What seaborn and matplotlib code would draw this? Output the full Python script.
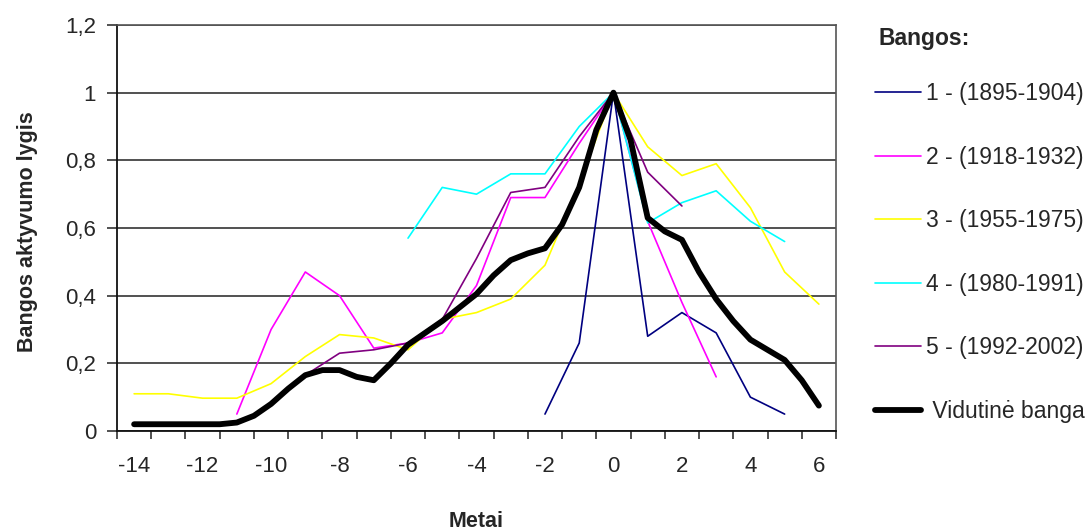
import numpy as np
import pandas as pd
import matplotlib
matplotlib.use("Agg")
import matplotlib.pyplot as plt
from matplotlib.ticker import FixedLocator
import seaborn as sns

# data
metai_1 = [-2, -1, 0, 1, 2, 3, 4, 5]
banga_1 = [0.05, 0.26, 1.0, 0.28, 0.35, 0.29, 0.10, 0.05]

metai_2 = [-11, -10, -9, -8, -7, -6, -5, -4, -3, -2, -1, 0, 1, 2, 3]
banga_2 = [0.05, 0.30, 0.47, 0.40, 0.245, 0.26, 0.29, 0.43, 0.69, 0.69, 0.85, 1.0, 0.62, 0.38, 0.16]

metai_3 = [-14, -13, -12, -11, -10, -9, -8, -7, -6, -5, -4, -3, -2, -1, 0, 1, 2, 3, 4, 5, 6]
banga_3 = [0.11, 0.11, 0.097, 0.097, 0.14, 0.22, 0.285, 0.275, 0.24, 0.33, 0.35, 0.39, 0.49,
           0.73, 1.0, 0.84, 0.755, 0.79, 0.66, 0.47, 0.375]

metai_4 = [-6, -5, -4, -3, -2, -1, 0, 1, 2, 3, 4, 5]
banga_4 = [0.57, 0.72, 0.70, 0.76, 0.76, 0.90, 1.0, 0.615, 0.675, 0.71, 0.62, 0.56]

metai_5 = [-9, -8, -7, -6, -5, -4, -3, -2, -1, 0, 1, 2]
banga_5 = [0.165, 0.23, 0.24, 0.26, 0.33, 0.51, 0.705, 0.72, 0.87, 1.0, 0.765, 0.665]

metai_vid = np.arange(-14, 6.5, 0.5)
vidutine = [0.02, 0.02, 0.02, 0.02, 0.02, 0.02, 0.025, 0.045, 0.08, 0.125, 0.165, 0.18, 0.18,
            0.16, 0.15, 0.2, 0.255, 0.29, 0.325, 0.365, 0.405, 0.46, 0.505, 0.525, 0.54, 0.61,
            0.72, 0.89, 1.0, 0.86, 0.63, 0.59, 0.565, 0.47, 0.39, 0.325, 0.27, 0.24, 0.21,
            0.15, 0.075]

pavadinimai = ["1 - (1895-1904)", "2 - (1918-1932)", "3 - (1955-1975)",
               "4 - (1980-1991)", "5 - (1992-2002)"]
spalvos = ["#000080", "#FF00FF", "#FFFF00", "#00FFFF", "#800080"]

x_labels = [-14, -12, -10, -8, -6, -4, -2, 0, 2, 4, 6]
y_ticks = [0, 0.2, 0.4, 0.6, 0.8, 1.0, 1.2]
y_labels = ["0", "0,2", "0,4", "0,6", "0,8", "1", "1,2"]

# long table for seaborn
frames = []
for name, xs, ys in zip(pavadinimai, [metai_1, metai_2, metai_3, metai_4, metai_5],
                        [banga_1, banga_2, banga_3, banga_4, banga_5]):
    frames.append(pd.DataFrame({"Metai": xs, "Lygis": ys, "Banga": name}))
df_bangos = pd.concat(frames, ignore_index=True)
df_vid = pd.DataFrame({"Metai": metai_vid, "Lygis": vidutine})

sns.set_style("white")
plt.rcParams["font.family"] = ["Liberation Sans", "DejaVu Sans"]

fig = plt.figure(figsize=(10.89, 5.31), dpi=100)
ax = fig.add_axes([117 / 1089, 1 - 431 / 531, 719 / 1089, 406 / 531])

sns.lineplot(data=df_bangos, x="Metai", y="Lygis", hue="Banga", hue_order=pavadinimai,
             palette=spalvos, linewidth=1.2, estimator=None, sort=False, legend=False, ax=ax)
sns.lineplot(data=df_vid, x="Metai", y="Lygis", color="black", linewidth=4.2,
             estimator=None, sort=False, legend=False, ax=ax)
ax.lines[-1].set_solid_joinstyle("round")
ax.lines[-1].set_solid_capstyle("round")

ax.set_xlim(-14.5, 6.5)
ax.set_ylim(0, 1.2)

# category style axis: labels on every 2nd year, ticks between the years
ax.set_xticks(x_labels)
ax.set_xticklabels([str(v) for v in x_labels])
ax.xaxis.set_minor_locator(FixedLocator(np.arange(-14.5, 7, 1.0)))
ax.tick_params(axis="x", which="major", length=0, pad=18, labelsize=16)
ax.tick_params(axis="x", which="minor", length=6, width=1.1, color="#222222", direction="out")
ax.xaxis.set_ticks_position("bottom")

ax.set_yticks(y_ticks)
ax.set_yticklabels(y_labels)
ax.tick_params(axis="y", which="major", length=7, width=1.1, color="#222222", pad=8,
               labelsize=16, direction="out")
ax.yaxis.set_ticks_position("left")

ax.grid(axis="y", color="#333333", linewidth=1.2)
ax.grid(axis="x", visible=False)
ax.set_axisbelow(True)

for side in ["left", "bottom"]:
    ax.spines[side].set_color("#111111")
    ax.spines[side].set_linewidth(1.3)
for side in ["top", "right"]:
    ax.spines[side].set_color("#555555")
    ax.spines[side].set_linewidth(1.2)

ax.set_xlabel("Metai", fontsize=15.5, fontweight="bold")
ax.xaxis.set_label_coords(0.5, -0.197)
ax.xaxis.label.set_va("top")
ax.set_ylabel("Bangos aktyvumo lygis", fontsize=15.5, fontweight="bold")
ax.yaxis.set_label_coords(-0.11, 0.49)

# legend title placed on its own, entries below
fig.text(878 / 1089, 1 - 38 / 531, "Bangos:", fontsize=16.5, fontweight="bold",
         ha="left", va="center")
handles = list(ax.lines)
labels = pavadinimai + [" Vidutinė banga"]
fig.legend(handles, labels, loc="upper left",
           bbox_to_anchor=(875 / 1089, 1 - 82 / 531), frameon=False, fontsize=16.5,
           labelspacing=1.77, handlelength=2.0, handletextpad=0.22, borderpad=0,
           borderaxespad=0)

fig.savefig("out.png", dpi=100)
